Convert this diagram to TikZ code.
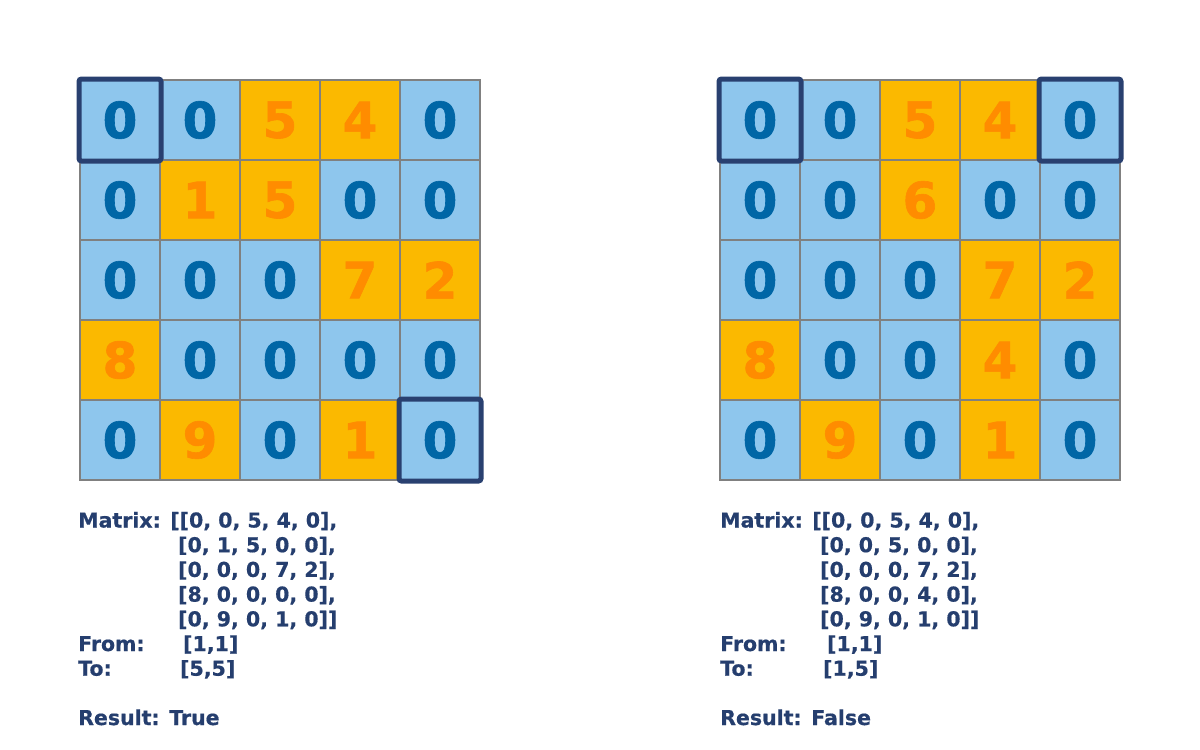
\documentclass[tikz,border=0pt]{standalone}
\usepackage{fontspec}
\setmainfont{DejaVu Sans}
\newfontfamily\heavyfont{DejaVu Sans}[BoldFeatures={FakeBold=1.2}]
\newfontfamily\textheavy{DejaVu Sans}[BoldFeatures={FakeBold=0.6}]
\definecolor{cellblue}{RGB}{142,198,237}
\definecolor{cellorange}{RGB}{251,185,0}
\definecolor{digitblue}{RGB}{0,102,166}
\definecolor{digitorange}{RGB}{255,140,0}
\definecolor{gridgrey}{RGB}{128,128,128}
\definecolor{hlnavy}{RGB}{41,64,112}
\definecolor{textnavy}{RGB}{37,62,110}
\tikzset{
  cellbase/.style={minimum size=80pt, inner sep=0pt, draw=gridgrey, line width=2pt,
    font=\heavyfont\bfseries\fontsize{50}{50}\selectfont},
  zerocell/.style={cellbase, fill=cellblue, text=digitblue},
  valcell/.style={cellbase, fill=cellorange, text=digitorange},
  hlbox/.style={draw=hlnavy, line width=5pt, rounded corners=2.5pt},
  info/.style={anchor=base west, inner sep=0pt, text=textnavy,
    font=\textheavy\bfseries\fontsize{20.5}{24}\selectfont},
}
\begin{document}
\begin{tikzpicture}[x=1pt,y=-1pt]
\useasboundingbox (0,0) rectangle (1200,750);
% left grid
\foreach \rowlist [count=\r] in {{0,0,5,4,0},{0,1,5,0,0},{0,0,0,7,2},{8,0,0,0,0},{0,9,0,1,0}}{
  \foreach \v [count=\c] in \rowlist {
    \ifnum\v=0 \def\sty{zerocell}\else\def\sty{valcell}\fi
    \node[\sty] (L-\r-\c) at ({40+80*\c},{40+80*\r}) {\v};
  }
}
% right grid
\foreach \rowlist [count=\r] in {{0,0,5,4,0},{0,0,6,0,0},{0,0,0,7,2},{8,0,0,4,0},{0,9,0,1,0}}{
  \foreach \v [count=\c] in \rowlist {
    \ifnum\v=0 \def\sty{zerocell}\else\def\sty{valcell}\fi
    \node[\sty] (R-\r-\c) at ({680+80*\c},{40+80*\r}) {\v};
  }
}
% highlights
\draw[hlbox] (L-1-1.north west) rectangle (L-1-1.south east);
\draw[hlbox] (L-5-5.north west) rectangle (L-5-5.south east);
\draw[hlbox] (R-1-1.north west) rectangle (R-1-1.south east);
\draw[hlbox] (R-1-5.north west) rectangle (R-1-5.south east);
% left text
\node[info] (lm1) at (78,527.5) {Matrix: [[0, 0, 5, 4, 0],};
\node[info] (lm2) at (178,552.2) {[0, 1, 5, 0, 0],};
\node[info] (lm3) at (178,576.9) {[0, 0, 0, 7, 2],};
\node[info] (lm4) at (178,601.6) {[8, 0, 0, 0, 0],};
\node[info] (lm5) at (178,626.3) {[0, 9, 0, 1, 0]]};
\node[info] (lf) at (78,651) {From:};
\node[info] (lfv) at (183,651) {[1,1]};
\node[info] (lt) at (78,675.7) {To:};
\node[info] (ltv) at (180,675.7) {[5,5]};
\node[info] (lr) at (78,725) {Result: True};
% right text
\node[info] (rm1) at (720,527.5) {Matrix: [[0, 0, 5, 4, 0],};
\node[info] (rm2) at (820,552.2) {[0, 0, 5, 0, 0],};
\node[info] (rm3) at (820,576.9) {[0, 0, 0, 7, 2],};
\node[info] (rm4) at (820,601.6) {[8, 0, 0, 4, 0],};
\node[info] (rm5) at (820,626.3) {[0, 9, 0, 1, 0]]};
\node[info] (rf) at (720,651) {From:};
\node[info] (rfv) at (827,651) {[1,1]};
\node[info] (rt) at (720,675.7) {To:};
\node[info] (rtv) at (823,675.7) {[1,5]};
\node[info] (rr) at (720,725) {Result: False};
\end{tikzpicture}
\end{document}
